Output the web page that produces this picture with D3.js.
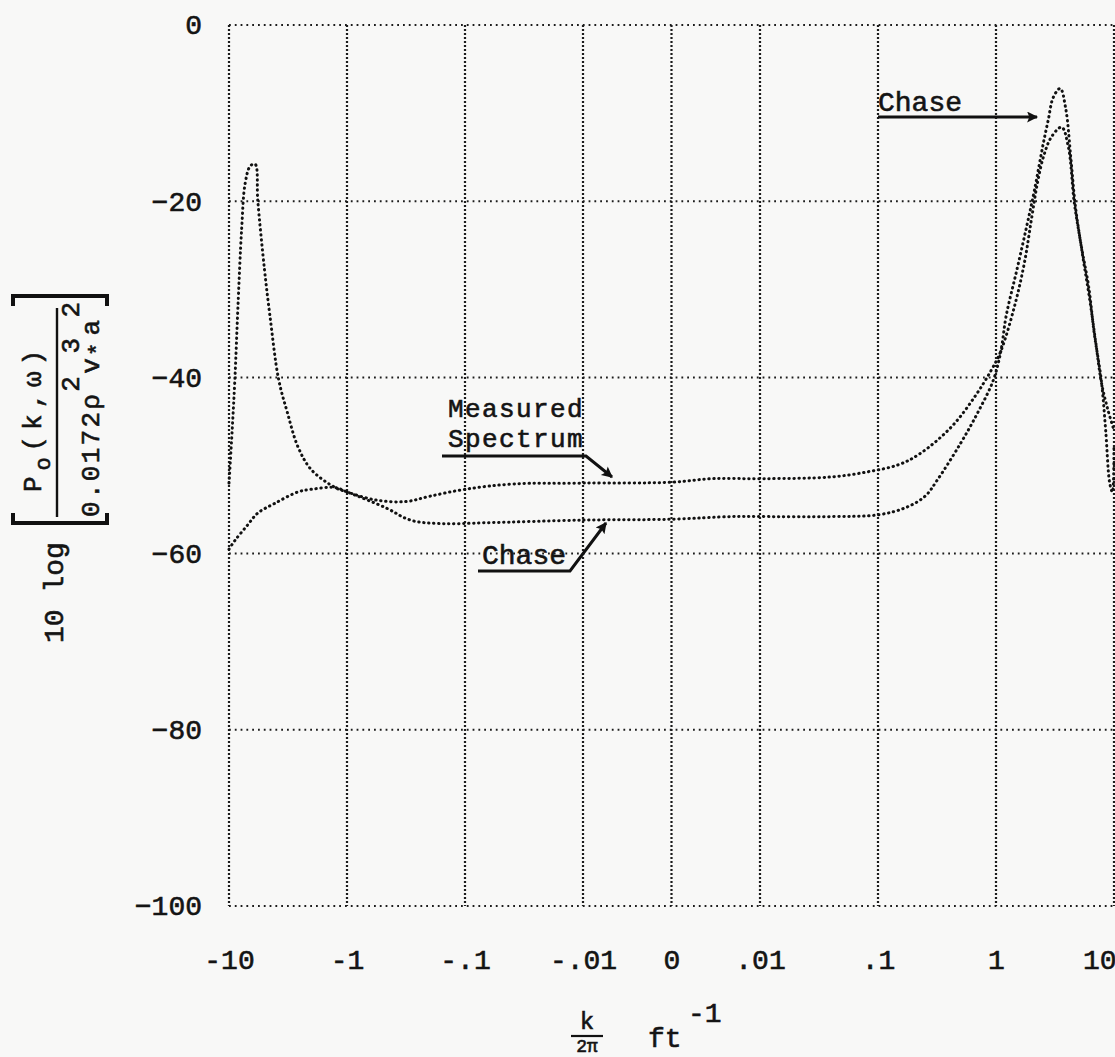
<!DOCTYPE html>
<html lang="en">
<head>
<meta charset="UTF-8">
<title>Wavenumber spectrum</title>
<script src="https://d3js.org/d3.v7.min.js"></script>
<style>
  body { margin: 0; background: #f8f8f7; }
  text { font-family: "Liberation Mono", monospace; fill: #141414; stroke: #141414; stroke-width: 0.6px; }
</style>
</head>
<body>
<svg id="chart" width="1115" height="1057"></svg>
<script>
// tick values / labels
const xTickValues = [-10, -1, -0.1, -0.01, 0, 0.01, 0.1, 1, 10];
const xTickLabels = ["-10", "-1", "-.1", "-.01", "0", ".01", ".1", "1", "10"];
const yTickValues = [0, -20, -40, -60, -80, -100];

// measured spectrum (k/2pi in ft^-1, dB)
const measuredK  = [-10, -9.4, -8.9, -8.4, -7.8, -7.3, -6.6, -6.0, -5.7, -5.0, -4.5, -3.8, -3.2, -2.6, -2.0, -1.26, -1.0,
                    -0.58, -0.32, -0.2, -0.1, -0.039, -0.01, 0, 0.0045, 0.011, 0.04, 0.083, 0.15, 0.23, 0.42, 0.66, 0.91,
                    1.1, 1.43, 1.74, 2.0, 2.24, 2.52, 2.95, 3.6, 4.1, 4.6, 5.3, 6.1, 6.8, 7.8, 8.5, 9.2, 9.7, 10];
const measuredDb = [-52, -46, -40, -32, -23, -18, -16, -15.8, -20, -27.8, -33, -40.2, -44, -47.9, -50.5, -52.5, -53,
                    -53.9, -54.1, -53.5, -52.7, -52.1, -52, -51.9, -51.5, -51.5, -51.3, -50.7, -49.9, -48.6, -45.6, -42.2, -39.2,
                    -37, -32, -27, -22, -18, -15, -12.7, -11.6, -13.8, -20.1, -25.2, -29.7, -35, -40.3, -46, -52, -53, -48];

// Chase model
const chaseK  = [-10, -8.9, -7.0, -5.7, -4.1, -2.6, -2.0, -1.26, -1.0, -0.47, -0.29, -0.16, -0.067, -0.01, 0, 0.0068,
                 0.01, 0.04, 0.1, 0.17, 0.25, 0.32, 0.5, 0.7, 0.95, 1.1, 1.22, 1.49, 1.81, 2.12, 2.52, 2.77, 3.06, 3.5,
                 3.9, 4.3, 4.7, 5.4, 6.2, 7.0, 7.8, 8.8, 10];
const chaseDb = [-59.5, -58.5, -56.8, -55.4, -54.3, -53, -52.7, -52.5, -53, -54.8, -56.2, -56.6, -56.5, -56.2, -56.1, -55.8,
                 -55.8, -55.8, -55.6, -54.8, -53.5, -51.6, -47.5, -44, -40.3, -37, -33, -28, -23, -18.7, -13.4, -10.8, -8.2, -7.2,
                 -9.5, -15, -20.5, -26, -31, -36, -40.5, -43.5, -46];

const svg = d3.select("#chart");
const W = 1115, H = 1057;
const plotL = 229, plotR = 1114, plotT = 25, plotB = 906;

svg.append("rect").attr("width", W).attr("height", H).attr("fill", "#f8f8f7");

// symmetric log axis: decades outside +-0.01, linear band around zero
function tk(k) {
  const a = Math.abs(k);
  return a >= 0.01 ? Math.sign(k) * (Math.log10(a) + 3) : k / 0.01;
}
const dec = (plotR - plotL) / 7.5;
const xPos = d3.scaleLinear()
  .domain([-4, -1, 1, 4])
  .range([plotL, plotL + 3 * dec, plotR - 3 * dec, plotR]);
const x = k => xPos(tk(k));
const y = d3.scaleLinear().domain([-100, 0]).range([plotB, plotT]);

// grid
const grid = svg.append("g").attr("stroke", "#1c1c1c").attr("fill", "none");
grid.selectAll("line.h")
  .data(yTickValues)
  .enter().append("line")
  .attr("class", "h")
  .attr("x1", plotL).attr("x2", plotR)
  .attr("y1", d => y(d)).attr("y2", d => y(d))
  .attr("stroke-width", 2)
  .attr("stroke-dasharray", "1.8 4");
grid.selectAll("line.v")
  .data(xTickValues)
  .enter().append("line")
  .attr("class", "v")
  .attr("x1", d => x(d)).attr("x2", d => x(d))
  .attr("y1", plotT).attr("y2", plotB)
  .attr("stroke-width", 2.2)
  .attr("stroke-dasharray", "2 2");

// axes labels
const xAxis = d3.axisBottom(xPos)
  .tickValues(xTickValues.map(tk))
  .tickFormat((d, i) => xTickLabels[i])
  .tickSize(0).tickPadding(0);
const gx = svg.append("g").attr("transform", `translate(0,${plotB + 63})`).call(xAxis);
gx.select(".domain").remove();
gx.selectAll("text").attr("font-size", 28).attr("dy", 0).attr("fill", "#141414")
  .style("font-family", "Liberation Mono, monospace");
// last label sits against the page edge
gx.selectAll("text").filter((d, i) => i === xTickLabels.length - 1)
  .attr("text-anchor", "end").attr("dx", 2);

const yAxis = d3.axisLeft(y).tickValues(yTickValues).tickFormat(d3.format("d")).tickSize(0).tickPadding(0);
const gy = svg.append("g").attr("transform", "translate(202,0)").call(yAxis);
gy.select(".domain").remove();
gy.selectAll("text").attr("font-size", 28).attr("fill", "#141414")
  .style("font-family", "Liberation Mono, monospace");

// curves
const line = d3.line()
  .x(d => x(d[0]))
  .y(d => y(d[1]))
  .curve(d3.curveCatmullRom.alpha(0.5));

const series = [
  d3.zip(measuredK, measuredDb),
  d3.zip(chaseK, chaseDb)
];
svg.append("g").selectAll("path")
  .data(series)
  .enter().append("path")
  .attr("d", line)
  .attr("fill", "none")
  .attr("stroke", "#111")
  .attr("stroke-width", 3)
  .attr("stroke-linecap", "round")
  .attr("stroke-dasharray", "0.4 4.6");

// arrowheads
svg.append("defs").append("marker")
  .attr("id", "arrow")
  .attr("viewBox", "0 0 10 10")
  .attr("refX", 9).attr("refY", 5)
  .attr("markerWidth", 18).attr("markerHeight", 11)
  .attr("markerUnits", "userSpaceOnUse")
  .attr("orient", "auto")
  .append("path").attr("d", "M0,0 L10,5 L0,10 L2,5 Z").attr("fill", "#111");

const ann = svg.append("g");
const leader = (pts) => ann.append("path")
  .attr("d", d3.line()(pts))
  .attr("fill", "none").attr("stroke", "#111").attr("stroke-width", 3)
  .attr("marker-end", "url(#arrow)");

ann.append("text").attr("x", 878).attr("y", 111).attr("font-size", 28).text("Chase");
leader([[878, 117], [1037, 117]]);

ann.append("text").attr("x", 448).attr("y", 417).attr("font-size", 26).attr("letter-spacing", 1.4).text("Measured");
ann.append("text").attr("x", 448).attr("y", 447).attr("font-size", 26).attr("letter-spacing", 1.4).text("Spectrum");
leader([[442, 456], [586, 456], [612, 477]]);

ann.append("text").attr("x", 482).attr("y", 564).attr("font-size", 28).text("Chase");
leader([[478, 571], [570, 571], [606, 523]]);

// x title
ann.append("text").attr("x", 587).attr("y", 1029).attr("font-size", 24).attr("text-anchor", "middle").text("k");
ann.append("line").attr("x1", 571).attr("x2", 603).attr("y1", 1036).attr("y2", 1036)
  .attr("stroke", "#111").attr("stroke-width", 2.2);
ann.append("text").attr("x", 587).attr("y", 1052).attr("font-size", 18).attr("text-anchor", "middle").text("2\u03c0");
ann.append("text").attr("x", 648).attr("y", 1047).attr("font-size", 28).text("ft");
ann.append("text").attr("x", 688).attr("y", 1022).attr("font-size", 28).text("-1");

// y title (rotated)
const yt = svg.append("g").attr("transform", "rotate(-90)");
yt.append("text").attr("x", -643).attr("y", 63).attr("font-size", 28).text("10 log");

const num = yt.append("text").attr("x", -492).attr("y", 41).attr("font-size", 26)
  .attr("textLength", 142).attr("lengthAdjust", "spacing");
num.append("tspan").text("P");
num.append("tspan").attr("dy", 9).attr("font-size", 22).text("o");
num.append("tspan").attr("dy", -9).text("(k,\u03c9)");

yt.append("line").attr("x1", -517).attr("x2", -308).attr("y1", 57).attr("y2", 57)
  .attr("stroke", "#111").attr("stroke-width", 2.4);

const den = yt.append("text").attr("x", -517).attr("y", 99).attr("font-size", 26)
  .attr("textLength", 215).attr("lengthAdjust", "spacing");
den.append("tspan").text("0.0172\u03c1");
den.append("tspan").attr("dy", -20).text("2");
den.append("tspan").attr("dy", 20).text("v");
den.append("tspan").attr("dy", 5).attr("font-size", 22).text("*");
den.append("tspan").attr("dy", -25).attr("dx", -13).text("3");
den.append("tspan").attr("dy", 20).text("a");
den.append("tspan").attr("dy", -20).text("2");

// brackets
const br = svg.append("g").attr("fill", "none").attr("stroke", "#111").attr("stroke-width", 4);
br.append("path").attr("d", "M13,513 L13,523 L107,523 L107,513");
br.append("path").attr("d", "M13,306 L13,296 L107,296 L107,306");
</script>
</body>
</html>
